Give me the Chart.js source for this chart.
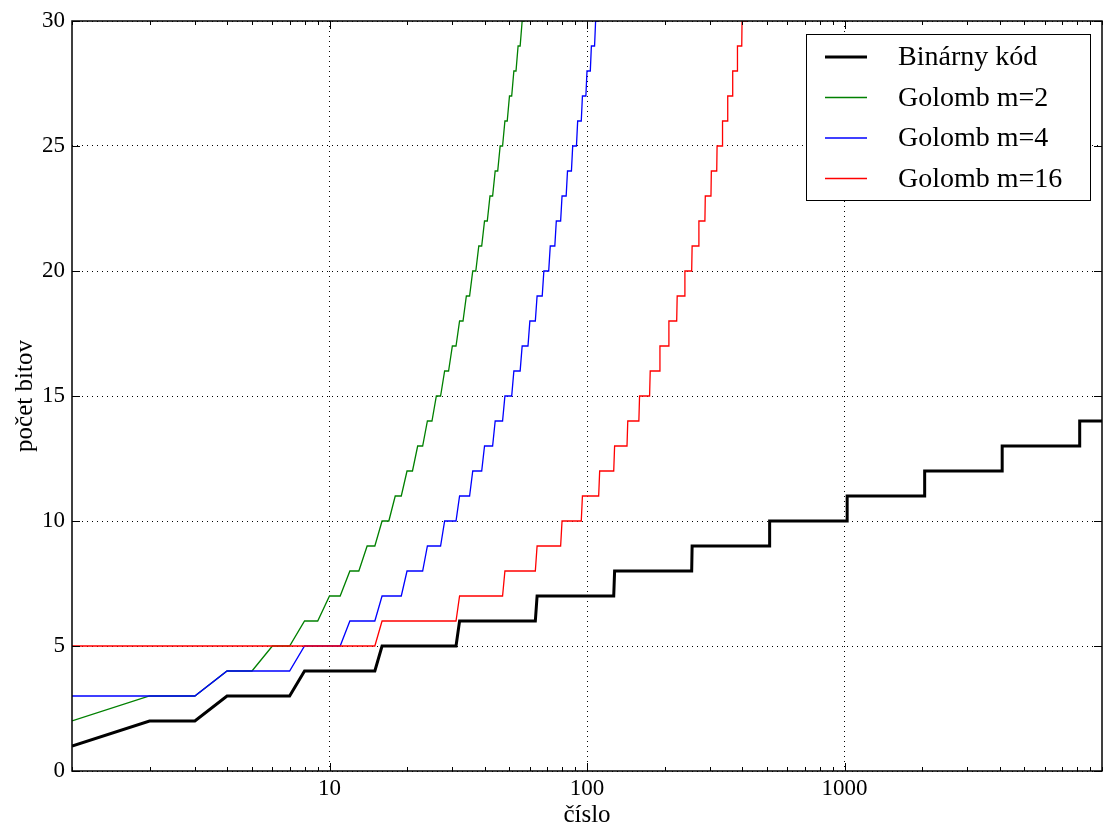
<!DOCTYPE html>
<html>
<head>
<meta charset="utf-8">
<script src="https://cdn.jsdelivr.net/npm/chart.js@4/dist/chart.umd.min.js"></script>
<style>
  html, body { margin: 0; padding: 0; background: #fff; }
  canvas { display: block; }
</style>
</head>
<body>
<canvas id="c" width="1106" height="830"></canvas>
<script>
// rohy schodovitých kriviek (x = číslo, y = počet bitov)
const binX = [1, 2, 3, 4, 7, 8, 15, 16, 31, 32, 63, 64, 127, 128, 255, 256, 511, 512,
    1023, 1024, 2047, 2048, 4095, 4096, 8191, 8192, 10000];
const binY = [1, 2, 2, 3, 3, 4, 4, 5, 5, 6, 6, 7, 7, 8, 8, 9, 9, 10,
    10, 11, 11, 12, 12, 13, 13, 14, 14];

const g2X = [1, 2, 3, 4, 5, 6, 7, 8, 9, 10, 11, 12, 13, 14, 15, 16, 17, 18, 19, 20,
    21, 22, 23, 24, 25, 26, 27, 28, 29, 30, 31, 32, 33, 34, 35, 36, 37, 38, 39, 40,
    41, 42, 43, 44, 45, 46, 47, 48, 49, 50, 51, 52, 53, 54, 55, 56, 57, 58];
const g2Y = [2, 3, 3, 4, 4, 5, 5, 6, 6, 7, 7, 8, 8, 9, 9, 10, 10, 11, 11, 12,
    12, 13, 13, 14, 14, 15, 15, 16, 16, 17, 17, 18, 18, 19, 19, 20, 20, 21, 21, 22,
    22, 23, 23, 24, 24, 25, 25, 26, 26, 27, 27, 28, 28, 29, 29, 30, 30, 31];

const g4X = [1, 3, 4, 7, 8, 11, 12, 15, 16, 19, 20, 23, 24, 27, 28, 31, 32, 35, 36, 39,
    40, 43, 44, 47, 48, 51, 52, 55, 56, 59, 60, 63, 64, 67, 68, 71, 72, 75, 76, 79,
    80, 83, 84, 87, 88, 91, 92, 95, 96, 99, 100, 103, 104, 107, 108, 111, 112];
const g4Y = [3, 3, 4, 4, 5, 5, 6, 6, 7, 7, 8, 8, 9, 9, 10, 10, 11, 11, 12, 12,
    13, 13, 14, 14, 15, 15, 16, 16, 17, 17, 18, 18, 19, 19, 20, 20, 21, 21, 22, 22,
    23, 23, 24, 24, 25, 25, 26, 26, 27, 27, 28, 28, 29, 29, 30, 30, 31];

const g16X = [1, 15, 16, 31, 32, 47, 48, 63, 64, 79, 80, 95, 96, 111, 112, 127, 128, 143,
    144, 159, 160, 175, 176, 191, 192, 207, 208, 223, 224, 239, 240, 255, 256, 271,
    272, 287, 288, 303, 304, 319, 320, 335, 336, 351, 352, 367, 368, 383, 384, 399,
    400, 415, 416];
const g16Y = [5, 5, 6, 6, 7, 7, 8, 8, 9, 9, 10, 10, 11, 11, 12, 12, 13, 13,
    14, 14, 15, 15, 16, 16, 17, 17, 18, 18, 19, 19, 20, 20, 21, 21,
    22, 22, 23, 23, 24, 24, 25, 25, 26, 26, 27, 27, 28, 28, 29, 29,
    30, 30, 31];

const seriesNames = ['Binárny kód', 'Golomb m=2', 'Golomb m=4', 'Golomb m=16'];
const seriesColors = ['#000000', '#008000', '#0000ff', '#ff0000'];
const seriesWidths = [3, 1.3, 1.3, 1.3];

const xLabelTicks = [10, 100, 1000];
const yTicks = [0, 5, 10, 15, 20, 25, 30];

const FONT = "'Liberation Serif', 'DejaVu Serif', serif";
Chart.defaults.font.family = FONT;
Chart.defaults.color = '#000';

const toPts = (xs, ys) => xs.map((x, i) => ({ x: x, y: ys[i] }));
const allX = [binX, g2X, g4X, g16X];
const allY = [binY, g2Y, g4Y, g16Y];

// vnútorné značky osí, rám a legenda
const frameAndLegend = {
    id: 'frameAndLegend',
    afterDatasetsDraw(chart) {
        const { ctx, chartArea: a, scales: { x, y } } = chart;
        ctx.save();
        ctx.strokeStyle = '#000';
        ctx.lineWidth = 1;
        const seg = (x1, y1, x2, y2) => {
            ctx.beginPath(); ctx.moveTo(x1, y1); ctx.lineTo(x2, y2); ctx.stroke();
        };
        x.ticks.forEach(t => {
            const px = Math.round(x.getPixelForValue(t.value)) + 0.5;
            const len = xLabelTicks.includes(t.value) ? 8 : 4;
            seg(px, a.bottom, px, a.bottom - len);
            seg(px, a.top, px, a.top + len);
        });
        y.ticks.forEach(t => {
            const py = Math.round(y.getPixelForValue(t.value)) + 0.5;
            seg(a.left, py, a.left + 8, py);
            seg(a.right, py, a.right - 8, py);
        });
        ctx.lineWidth = 1.5;
        ctx.strokeRect(a.left, a.top, a.right - a.left, a.bottom - a.top);

        // legenda
        const bx = a.right - 296, by = a.top + 13, bw = 284, bh = 166;
        ctx.fillStyle = '#fff';
        ctx.fillRect(bx, by, bw, bh);
        ctx.lineWidth = 1;
        ctx.strokeRect(bx + 0.5, by + 0.5, bw, bh);
        ctx.font = "28px " + FONT;
        ctx.textBaseline = 'middle';
        ctx.textAlign = 'left';
        seriesNames.forEach((name, i) => {
            const ry = by + 23 + i * 40.5;
            ctx.strokeStyle = seriesColors[i];
            ctx.lineWidth = seriesWidths[i] + 0.2;
            seg(bx + 19, ry, bx + 61, ry);
            ctx.fillStyle = '#000';
            ctx.fillText(name, bx + 92, ry + 1);
        });
        ctx.restore();
    }
};

const ctx = document.getElementById('c').getContext('2d');
new Chart(ctx, {
    type: 'line',
    data: {
        datasets: seriesNames.map((name, i) => ({
            label: name,
            data: toPts(allX[i], allY[i]),
            borderColor: seriesColors[i],
            borderWidth: seriesWidths[i],
            pointRadius: 0,
            tension: 0,
            fill: false,
            order: 3 - i
        }))
    },
    options: {
        responsive: false,
        animation: false,
        layout: { autoPadding: false, padding: { top: 21, right: 0, left: 0, bottom: 0 } },
        plugins: { legend: { display: false }, tooltip: { enabled: false } },
        scales: {
            x: {
                type: 'logarithmic',
                min: 1,
                max: 10000,
                afterBuildTicks: scale => {
                    const t = [];
                    [1, 10, 100, 1000].forEach(d => {
                        for (let k = 1; k <= 9; k++) t.push({ value: d * k });
                    });
                    t.push({ value: 10000 });
                    scale.ticks = t;
                },
                afterFit: scale => { scale.height = 59; },
                ticks: {
                    autoSkip: false,
                    maxRotation: 0,
                    padding: 4,
                    font: { size: 23 },
                    callback: v => xLabelTicks.includes(v) ? String(v) : ''
                },
                grid: {
                    drawTicks: false,
                    lineWidth: 1,
                    color: c => (c.tick && xLabelTicks.includes(c.tick.value)) ? '#000' : 'rgba(0,0,0,0)'
                },
                border: { display: false, dash: [1, 4] },
                title: {
                    display: true,
                    text: 'číslo',
                    font: { size: 25 },
                    padding: { top: 0, bottom: 0 }
                }
            },
            y: {
                min: 0,
                max: 30,
                afterBuildTicks: scale => { scale.ticks = yTicks.map(v => ({ value: v })); },
                afterFit: scale => { scale.width = 72; },
                ticks: {
                    padding: 7,
                    font: { size: 23 }
                },
                grid: {
                    drawTicks: false,
                    lineWidth: 1,
                    color: '#000'
                },
                border: { display: false, dash: [1, 4] },
                title: {
                    display: true,
                    text: 'počet bitov',
                    font: { size: 25 },
                    padding: { top: 10, bottom: 0 }
                }
            }
        }
    },
    plugins: [frameAndLegend]
});
</script>
</body>
</html>
